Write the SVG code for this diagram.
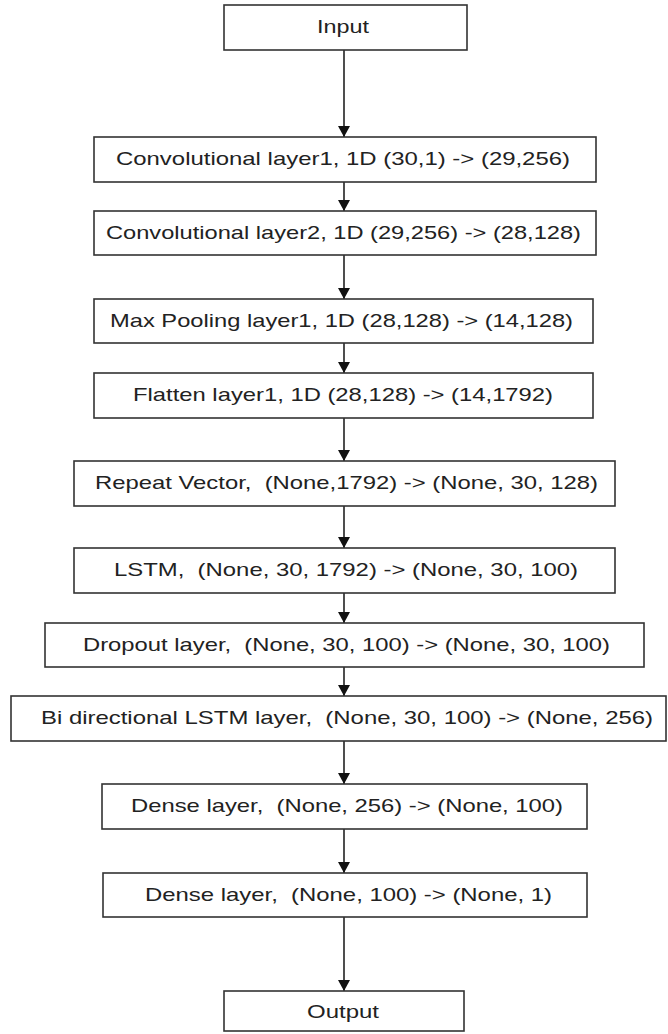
<svg xmlns="http://www.w3.org/2000/svg" width="668" height="1034" viewBox="0 0 668 1034">
<style>
.box{fill:#fff;stroke:#333;stroke-width:1.6}
.lbl{font-family:"Liberation Sans",Arial,sans-serif;font-size:19px;fill:#222;text-anchor:middle;white-space:pre}
.edge{stroke:#222;stroke-width:1.6;fill:none}
</style>
<defs>
<marker id="ah" markerWidth="14" markerHeight="12" refX="11" refY="6" orient="auto" markerUnits="userSpaceOnUse">
<path d="M0,0 L11,6 L0,12 Z" fill="#111"/>
</marker>
</defs>
<rect width="668" height="1034" fill="#fff"/>
<g id="connectors">
<line class="edge" x1="344" y1="50" x2="344" y2="137" marker-end="url(#ah)"/>
<line class="edge" x1="344" y1="182" x2="344" y2="211" marker-end="url(#ah)"/>
<line class="edge" x1="344" y1="255" x2="344" y2="299" marker-end="url(#ah)"/>
<line class="edge" x1="344" y1="343" x2="344" y2="373" marker-end="url(#ah)"/>
<line class="edge" x1="344" y1="418" x2="344" y2="461" marker-end="url(#ah)"/>
<line class="edge" x1="344" y1="506" x2="344" y2="548" marker-end="url(#ah)"/>
<line class="edge" x1="344" y1="593" x2="344" y2="623" marker-end="url(#ah)"/>
<line class="edge" x1="344" y1="667" x2="344" y2="696" marker-end="url(#ah)"/>
<line class="edge" x1="344" y1="741" x2="344" y2="784" marker-end="url(#ah)"/>
<line class="edge" x1="344" y1="829" x2="344" y2="873" marker-end="url(#ah)"/>
<line class="edge" x1="344" y1="917" x2="344" y2="991" marker-end="url(#ah)"/>
</g>
<g id="input"><rect class="box" x="224" y="5" width="243" height="45"/><text class="lbl" x="343" y="33" textLength="52" lengthAdjust="spacingAndGlyphs">Input</text></g>
<g id="conv1"><rect class="box" x="94" y="137" width="502" height="45"/><text class="lbl" x="343" y="165" textLength="454" lengthAdjust="spacingAndGlyphs">Convolutional layer1, 1D (30,1) -&gt; (29,256)</text></g>
<g id="conv2"><rect class="box" x="94" y="211" width="502" height="44"/><text class="lbl" x="343.5" y="239" textLength="475" lengthAdjust="spacingAndGlyphs">Convolutional layer2, 1D (29,256) -&gt; (28,128)</text></g>
<g id="maxpool"><rect class="box" x="94" y="299" width="499" height="44"/><text class="lbl" x="341.5" y="327" textLength="463" lengthAdjust="spacingAndGlyphs">Max Pooling layer1, 1D (28,128) -&gt; (14,128)</text></g>
<g id="flatten"><rect class="box" x="94" y="373" width="499" height="45"/><text class="lbl" x="343" y="401" textLength="420" lengthAdjust="spacingAndGlyphs">Flatten layer1, 1D (28,128) -&gt; (14,1792)</text></g>
<g id="repeat"><rect class="box" x="74" y="461" width="541" height="45"/><text class="lbl" x="346.5" y="489" textLength="503" lengthAdjust="spacingAndGlyphs">Repeat Vector,  (None,1792) -&gt; (None, 30, 128)</text></g>
<g id="lstm"><rect class="box" x="74" y="548" width="541" height="45"/><text class="lbl" x="346" y="576" textLength="464" lengthAdjust="spacingAndGlyphs">LSTM,  (None, 30, 1792) -&gt; (None, 30, 100)</text></g>
<g id="dropout"><rect class="box" x="45" y="623" width="599" height="44"/><text class="lbl" x="346.5" y="651" textLength="527" lengthAdjust="spacingAndGlyphs">Dropout layer,  (None, 30, 100) -&gt; (None, 30, 100)</text></g>
<g id="bilstm"><rect class="box" x="11" y="696" width="655" height="45"/><text class="lbl" x="347" y="724" textLength="612" lengthAdjust="spacingAndGlyphs">Bi directional LSTM layer,  (None, 30, 100) -&gt; (None, 256)</text></g>
<g id="dense1"><rect class="box" x="102" y="784" width="485" height="45"/><text class="lbl" x="347" y="812" textLength="432" lengthAdjust="spacingAndGlyphs">Dense layer,  (None, 256) -&gt; (None, 100)</text></g>
<g id="dense2"><rect class="box" x="103" y="873" width="484" height="44"/><text class="lbl" x="348.5" y="901" textLength="407" lengthAdjust="spacingAndGlyphs">Dense layer,  (None, 100) -&gt; (None, 1)</text></g>
<g id="output"><rect class="box" x="224" y="991" width="240" height="40"/><text class="lbl" x="343" y="1018" textLength="72" lengthAdjust="spacingAndGlyphs">Output</text></g>
</svg>
